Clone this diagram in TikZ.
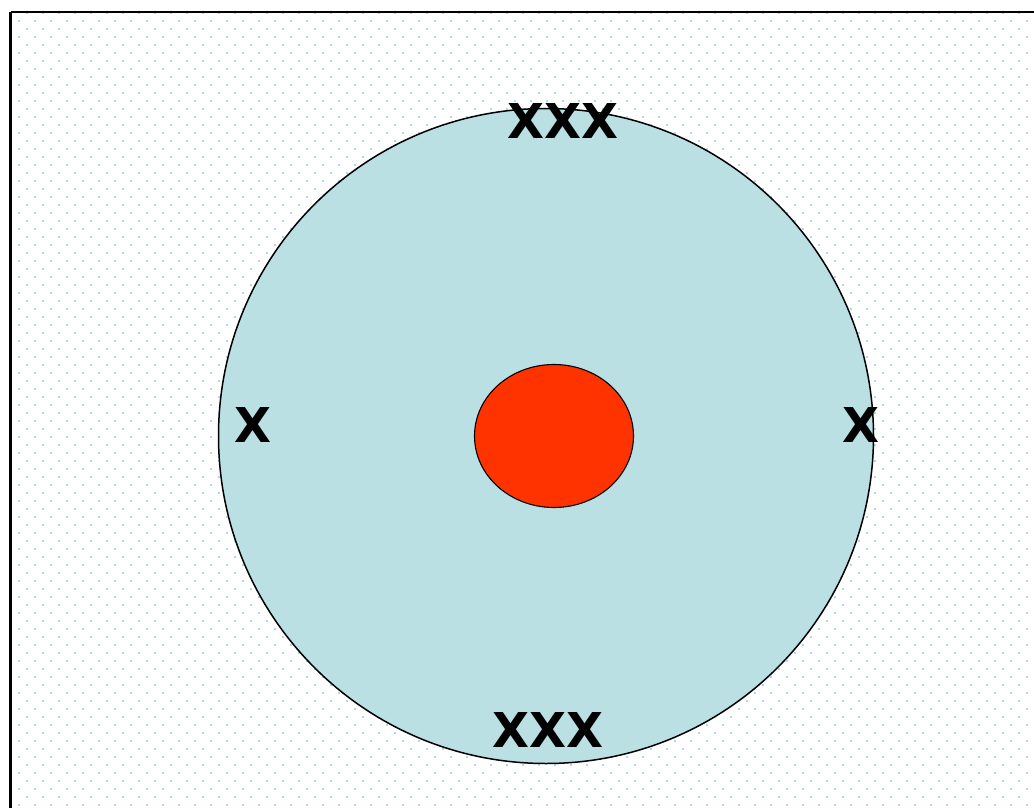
\documentclass[tikz,border=0pt]{standalone}
\usepackage{fontspec}
\setmainfont{DejaVu Sans}
\usetikzlibrary{shapes.geometric}
\definecolor{dotblue}{RGB}{176,218,224}
\definecolor{ringfill}{RGB}{186,224,228}
\definecolor{corered}{RGB}{255,51,0}
\tikzset{
  lbl/.style={font=\fontsize{48}{52}\selectfont\bfseries, inner sep=0pt, text=black},
  frame/.style={draw=black, line width=2.7pt}
}
\begin{document}
\begin{tikzpicture}[x=1pt,y=-1pt]
\useasboundingbox (0,0) rectangle (1034,808);
\fill[white] (0,0) rectangle (1034,808);
% dotted background
\foreach \k in {0,...,100}{
  \pgfmathsetmacro{\yy}{12.7+8*\k}
  \pgfmathsetmacro{\xs}{ifthenelse(mod(\k,2)==0,10.7,18.7)}
  \foreach \j in {0,...,64}{
    \fill[dotblue] ({\xs+16*\j-1},{\yy-1}) rectangle ++(2,2);
  }
}
% frame
\draw[frame] (10.7,12) -- (10.7,820);
\draw[frame] (10.7,12) -- (1040,12);
% shapes
\node[circle, draw=black, line width=1.5pt, fill=ringfill, minimum size=655pt, inner sep=0pt] (outer) at (546,436) {};
\node[ellipse, draw=black, line width=1.1pt, fill=corered, minimum width=159pt, minimum height=143pt, inner sep=0pt] (core) at (554,436) {};
% labels
\node[lbl] (top) at (563,121.5) {XXX};
\node[lbl] (bottom) at (548,729.5) {XXX};
\node[lbl] (left) at (253,425.5) {X};
\node[lbl] (right) at (860.5,425.5) {X};
\end{tikzpicture}
\end{document}
